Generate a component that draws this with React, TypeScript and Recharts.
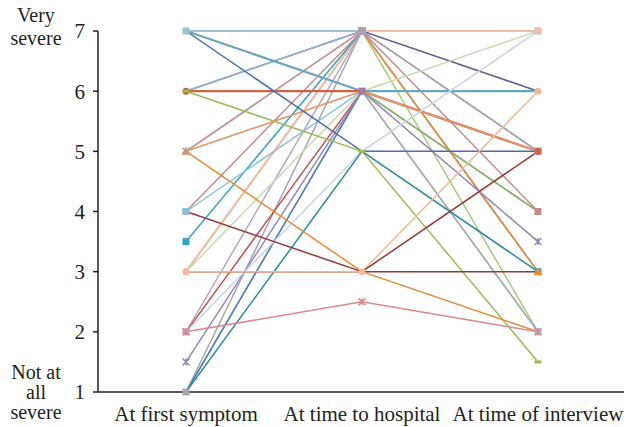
import React from 'react';
import { LineChart, Line, XAxis, YAxis } from 'recharts';

// severity scores per respondent, one array per time point (same index = same person)
const categories = ['At first symptom', 'At time to hospital', 'At time of interview'];
const atFirstSymptom = [7, 6, 6, 3, 3, 3.5, 5, 5, 4, 2, 1, 2, 7, 4, 1, 1, 6, 6, 5, 3, 1.5, 7, 6, 2, 1, 3, 3, 4, 5, 2];
const atHospital = [7, 7, 7, 7, 7, 7, 7, 7, 7, 7, 7, 6, 6, 6, 6, 6, 6, 6, 6, 6, 6, 5, 5, 5, 5, 3, 3, 3, 3, 2.5];
const atInterview = [7, 6, 7, 2, 7, 3, 3, 5, 4, 5, 5, 6, 6, 2, 2, 4, 4, 5, 5, 7, 3.5, 5, 1.5, 7, 3, 3, 6, 5, 2, 2];

const lineColors = [
  '#9CC2CF', '#5E5E9C', '#93B5D3', '#A9CA7C', '#F1BCA6', '#35A4C4', '#F28B32', '#B69BAA', '#C48A8A', '#BBA6C2',
  '#A5A5AE', '#C0504D', '#6AA5BF', '#8DC2D6', '#A8A8B0', '#4F81BD', '#96B95A', '#D0604A', '#E39A6B', '#C8DBAE',
  '#9486BA', '#4A6EA8', '#9BBB59', '#C6D3EA', '#2E8AA0', '#8E3A3A', '#F6B894', '#953836', '#E58B35', '#D9898A',
];
const markerShapes = [
  'square', 'none', 'none', 'none', 'circle', 'square', 'triangle', 'x', 'square', 'square',
  'square', 'none', 'none', 'square', 'none', 'none', 'none', 'circle', 'none', 'none',
  'star', 'none', 'dash', 'none', 'none', 'none', 'circle', 'none', 'none', 'star',
];
const thick = [0, 4, 12, 17];

const rows = categories.map((name, i) => {
  const row: Record<string, number | string> = { x: i + 0.5, name };
  const col = [atFirstSymptom, atHospital, atInterview][i];
  col.forEach((v, s) => {
    row[`s${s}`] = v;
  });
  return row;
});

function makeDot(shape: string, color: string) {
  return (props: any) => {
    const { cx, cy, index } = props;
    const k = `d${index}`;
    if (shape === 'none' || cx == null || cy == null) return <g key={k} />;
    const r = 3.5;
    if (shape === 'square')
      return <rect key={k} x={cx - r} y={cy - r} width={r * 2} height={r * 2} fill={color} />;
    if (shape === 'circle') return <circle key={k} cx={cx} cy={cy} r={r} fill={color} />;
    if (shape === 'triangle')
      return <path key={k} d={`M${cx},${cy - r - 1} L${cx + r + 1},${cy + r} L${cx - r - 1},${cy + r} Z`} fill={color} />;
    if (shape === 'dash')
      return <rect key={k} x={cx - r} y={cy - 1.5} width={r * 2} height={3} fill={color} />;
    if (shape === 'x')
      return (
        <path key={k} d={`M${cx - r},${cy - r} L${cx + r},${cy + r} M${cx - r},${cy + r} L${cx + r},${cy - r}`} stroke={color} strokeWidth={1.5} />
      );
    return (
      <path
        key={k}
        d={`M${cx - r},${cy - r} L${cx + r},${cy + r} M${cx - r},${cy + r} L${cx + r},${cy - r} M${cx},${cy - r} L${cx},${cy + r}`}
        stroke={color}
        strokeWidth={1.5}
      />
    );
  };
}

const labelStyle: React.CSSProperties = {
  position: 'absolute',
  width: 72,
  textAlign: 'center',
  fontFamily: '"Liberation Serif", serif',
  fontSize: 20,
  color: '#231F20',
};

export default function App() {
  return (
    <div style={{ position: 'absolute', left: 0, top: 0, width: 624, height: 427, overflow: 'hidden', background: '#fff' }}>
      <LineChart width={626} height={427} data={rows} margin={{ top: 31, right: 0, bottom: 0, left: 0 }}>
        <XAxis
          xAxisId="b_cat"
          type="number"
          dataKey="x"
          domain={[0, 3]}
          ticks={[0.5, 1.5, 2.5]}
          height={34}
          axisLine={false}
          tickLine={false}
          tickSize={11}
          tickMargin={2}
          interval={0}
          tickFormatter={(v: number) => categories[Math.floor(v)]}
          tick={{ fill: '#231F20', fontSize: 21, fontFamily: '"Liberation Serif", serif' }}
        />
        <XAxis
          xAxisId="a_marks"
          type="number"
          dataKey="x"
          domain={[0, 3]}
          ticks={[1, 2]}
          height={1}
          tick={false}
          tickSize={5}
          axisLine={{ stroke: '#231F20', strokeWidth: 1.5 }}
          tickLine={{ stroke: '#231F20', strokeWidth: 1.5 }}
        />
        <YAxis
          type="number"
          domain={[1, 7]}
          ticks={[1, 2, 3, 4, 5, 6, 7]}
          width={98}
          tickSize={5}
          tickMargin={8}
          axisLine={{ stroke: '#231F20', strokeWidth: 1.5 }}
          tickLine={{ stroke: '#231F20', strokeWidth: 1.5 }}
          tick={{ fill: '#231F20', fontSize: 21, fontFamily: '"Liberation Serif", serif' }}
        />
        {atFirstSymptom.map((_, s) => (
          <Line
            key={s}
            xAxisId="b_cat"
            type="linear"
            dataKey={`s${s}`}
            stroke={lineColors[s]}
            strokeWidth={thick.includes(s) ? 2.2 : 1.5}
            dot={makeDot(markerShapes[s], lineColors[s])}
            activeDot={false}
            isAnimationActive={false}
          />
        ))}
      </LineChart>
      <div style={{ ...labelStyle, left: 0, top: 4, lineHeight: '23px' }}>
        Very
        <br />
        severe
      </div>
      <div style={{ ...labelStyle, left: 0, top: 362, lineHeight: '20px' }}>
        Not at
        <br />
        all
        <br />
        severe
      </div>
    </div>
  );
}
